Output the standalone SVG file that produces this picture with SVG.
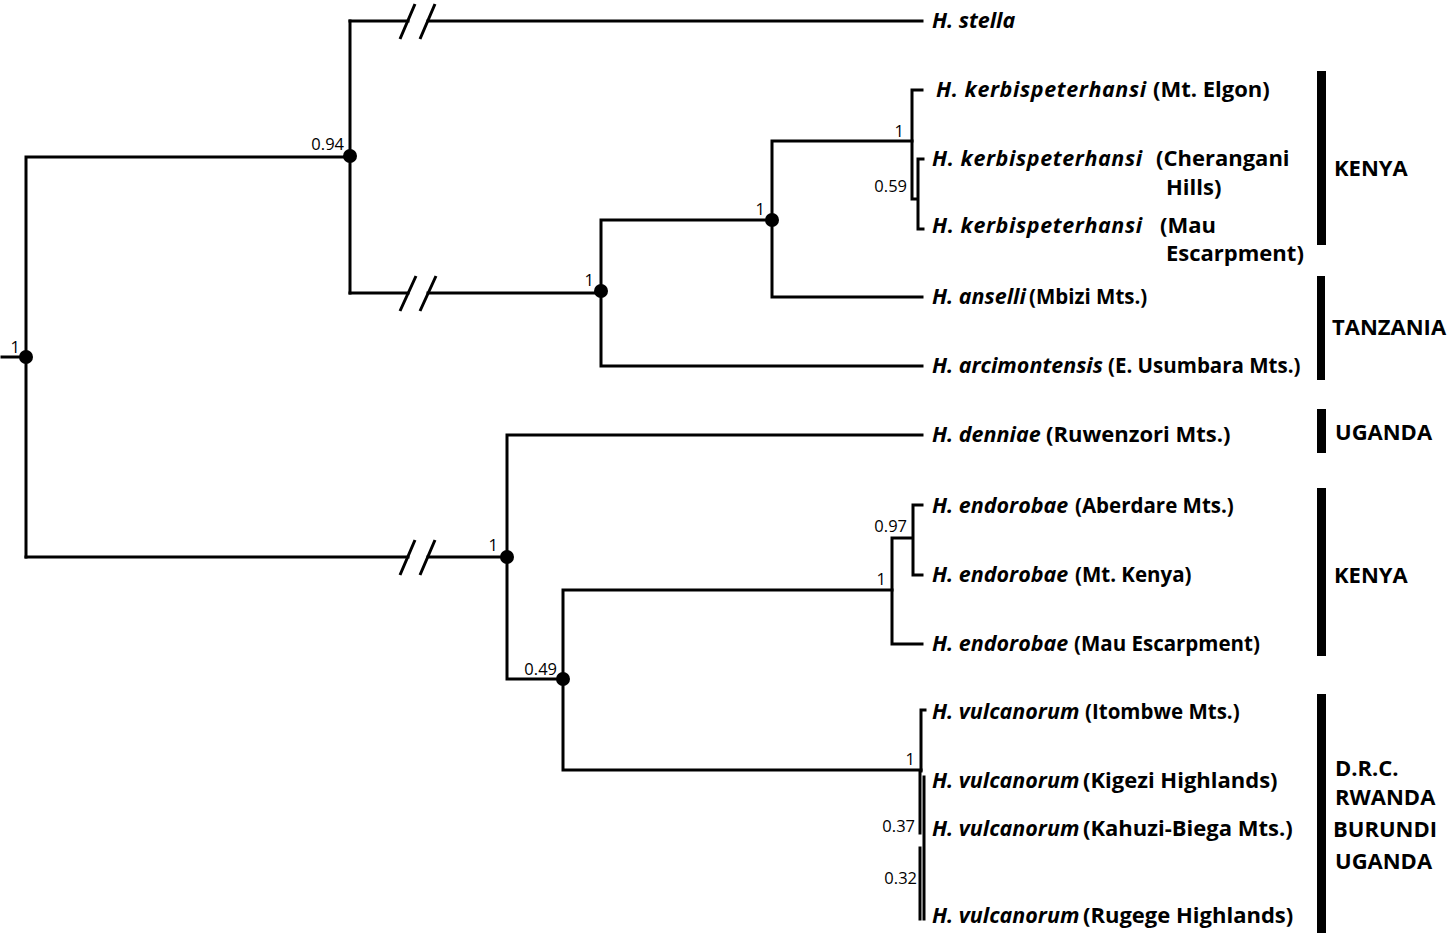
<svg xmlns="http://www.w3.org/2000/svg" width="1448" height="933" viewBox="0 0 1448 933">
<style>
.br{fill:none;stroke:#000;stroke-width:3;stroke-linecap:square}
.sl{fill:none;stroke:#000;stroke-width:3}
.dot{fill:#000}
.num{font-family:"Open Sans","Liberation Sans",sans-serif;font-size:16.5px;fill:#000;text-anchor:end}
.tip{font-family:"Open Sans","Liberation Sans",sans-serif;font-size:20.5px;font-weight:bold;fill:#000}
.sp{font-style:italic;font-size:21.5px}
.kb{letter-spacing:0.6px}
.lg{font-size:22px}
.reg{font-family:"Open Sans","Liberation Sans",sans-serif;font-size:22px;font-weight:bold;fill:#000}
.bar{fill:#000}
</style>
<rect width="1448" height="933" fill="#fff"/>
<g id="connectors">
<path class="br" d="M2,357H26M26,157V557M26,157H350M350,21V293"/>
<path class="br" d="M350,21H408M428,21H922"/>
<path class="sl" d="M400,39L415,4M420,39L435,4"/>
<path class="br" d="M350,293H408M428,293H601"/>
<path class="sl" d="M400,311L416,276M420,311L436,276"/>
<path class="br" d="M601,220V366M601,366H922M601,220H772"/>
<path class="br" d="M772,141V297M772,297H922M772,141H912"/>
<path class="br" d="M912,90V199M912,90H922M912,199H918M918,159V229M918,159H923M918,229H923"/>
<path class="br" d="M26,557H408M428,557H507"/>
<path class="sl" d="M400,575L415,540M420,575L435,540"/>
<path class="br" d="M507,435V679M507,435H922M507,679H563"/>
<path class="br" d="M563,590V770M563,770H921M563,590H892"/>
<path class="br" d="M892,538V644M892,644H922M892,538H913M913,505V575M913,505H922M913,575H922"/>
<path class="br" d="M921,710V771M921,710H925M920,771V833M924,777V919M920,848V919"/>
</g>
<g id="node-root"><circle class="dot" cx="26" cy="357" r="7"/><text class="num" x="20" y="353">1</text></g>
<g id="node-094"><circle class="dot" cx="350" cy="156" r="7"/><text class="num" x="344" y="150">0.94</text></g>
<g id="node-601"><circle class="dot" cx="601" cy="291" r="7"/><text class="num" x="594" y="286">1</text></g>
<g id="node-772"><circle class="dot" cx="772" cy="220" r="7"/><text class="num" x="765" y="215">1</text></g>
<g id="node-kerb"><text class="num" x="904" y="137">1</text></g>
<g id="node-kerb2"><text class="num" x="907" y="192">0.59</text></g>
<g id="node-507"><circle class="dot" cx="507" cy="557" r="7"/><text class="num" x="498" y="551">1</text></g>
<g id="node-049"><circle class="dot" cx="563" cy="679" r="7"/><text class="num" x="557" y="675">0.49</text></g>
<g id="node-endo"><text class="num" x="886" y="585">1</text></g>
<g id="node-endo2"><text class="num" x="907" y="532">0.97</text></g>
<g id="node-vulc"><text class="num" x="915" y="765">1</text></g>
<g id="node-vulc2"><text class="num" x="915" y="832">0.37</text></g>
<g id="node-vulc3"><text class="num" x="917" y="884">0.32</text></g>
<g id="tip-stella"><text class="tip" x="932" y="28"><tspan class="sp">H. stella</tspan></text></g>
<g id="tip-kerb-elgon"><text class="tip" x="936" y="97"><tspan class="sp kb">H. kerbispeterhansi</tspan><tspan class="lg" x="1153">(Mt. Elgon)</tspan></text></g>
<g id="tip-kerb-cher"><text class="tip" x="932" y="166"><tspan class="sp kb">H. kerbispeterhansi</tspan><tspan class="lg" x="1156">(Cherangani</tspan></text><text class="tip lg" x="1166" y="195">Hills)</text></g>
<g id="tip-kerb-mau"><text class="tip" x="932" y="233"><tspan class="sp kb">H. kerbispeterhansi</tspan><tspan class="lg" x="1160">(Mau</tspan></text><text class="tip lg" x="1166" y="261">Escarpment)</text></g>
<g id="tip-anselli"><text class="tip" x="932" y="304"><tspan class="sp">H. anselli</tspan><tspan x="1029">(Mbizi Mts.)</tspan></text></g>
<g id="tip-arci"><text class="tip" x="932" y="373"><tspan class="sp">H. arcimontensis</tspan><tspan x="1108">(E. Usumbara Mts.)</tspan></text></g>
<g id="tip-denniae"><text class="tip" x="932" y="442"><tspan class="sp">H. denniae</tspan><tspan class="lg" x="1046">(Ruwenzori Mts.)</tspan></text></g>
<g id="tip-endo-ab"><text class="tip" x="932" y="513"><tspan class="sp">H. endorobae</tspan><tspan x="1075">(Aberdare Mts.)</tspan></text></g>
<g id="tip-endo-mk"><text class="tip" x="932" y="582"><tspan class="sp">H. endorobae</tspan><tspan x="1075">(Mt. Kenya)</tspan></text></g>
<g id="tip-endo-mau"><text class="tip" x="932" y="651"><tspan class="sp">H. endorobae</tspan><tspan x="1074">(Mau Escarpment)</tspan></text></g>
<g id="tip-vulc-it"><text class="tip" x="932" y="719"><tspan class="sp">H. vulcanorum</tspan><tspan x="1085">(Itombwe Mts.)</tspan></text></g>
<g id="tip-vulc-ki"><text class="tip" x="932" y="788"><tspan class="sp">H. vulcanorum</tspan><tspan class="lg" x="1083">(Kigezi Highlands)</tspan></text></g>
<g id="tip-vulc-ka"><text class="tip" x="932" y="836"><tspan class="sp">H. vulcanorum</tspan><tspan class="lg" x="1083">(Kahuzi-Biega Mts.)</tspan></text></g>
<g id="tip-vulc-ru"><text class="tip" x="932" y="923"><tspan class="sp">H. vulcanorum</tspan><tspan class="lg" x="1083">(Rugege Highlands)</tspan></text></g>
<g id="region-kenya1"><rect class="bar" x="1317" y="71" width="9" height="174"/><text class="reg" x="1334" y="176">KENYA</text></g>
<g id="region-tanzania"><rect class="bar" x="1317" y="276" width="8" height="104"/><text class="reg" x="1332" y="335">TANZANIA</text></g>
<g id="region-uganda"><rect class="bar" x="1317" y="409" width="9" height="44"/><text class="reg" x="1335" y="440">UGANDA</text></g>
<g id="region-kenya2"><rect class="bar" x="1317" y="488" width="9" height="168"/><text class="reg" x="1334" y="583">KENYA</text></g>
<g id="region-drc"><rect class="bar" x="1317" y="694" width="9" height="239"/><text class="reg" x="1335" y="776">D.R.C.</text><text class="reg" x="1335" y="805">RWANDA</text><text class="reg" x="1333" y="837">BURUNDI</text><text class="reg" x="1335" y="869">UGANDA</text></g>
</svg>
